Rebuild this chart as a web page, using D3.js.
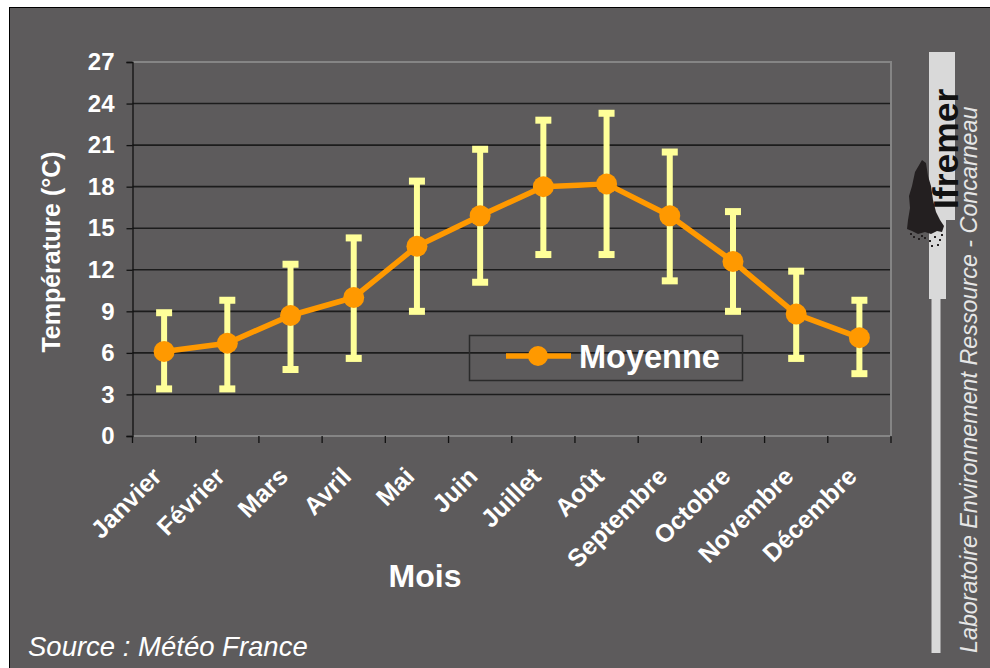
<!DOCTYPE html>
<html lang="fr">
<head>
<meta charset="utf-8">
<script src="https://cdn.jsdelivr.net/npm/d3@7"></script>
<style>
  html, body { margin: 0; padding: 0; background: #ffffff; }
  svg { display: block; }
  text { font-family: "Liberation Sans", Arial, sans-serif; }
</style>
</head>
<body>
<svg id="chart" width="990" height="668"></svg>
<script>
// Températures mensuelles à Concarneau (moyenne, minimum et maximum)
const months = ["Janvier", "Février", "Mars", "Avril", "Mai", "Juin",
                "Juillet", "Août", "Septembre", "Octobre", "Novembre", "Décembre"];
const meanTemp = [6.1, 6.7, 8.7, 10.0, 13.7, 15.9, 18.0, 18.2, 15.9, 12.6, 8.8, 7.1];
const maxTemp  = [8.9, 9.8, 12.4, 14.3, 18.4, 20.7, 22.8, 23.3, 20.5, 16.2, 11.9, 9.8];
const minTemp  = [3.4, 3.4, 4.8, 5.6, 9.0, 11.1, 13.1, 13.1, 11.2, 9.0, 5.6, 4.5];
const yTicks = [0, 3, 6, 9, 12, 15, 18, 21, 24, 27];

const BG = "#5d5b5c", ORANGE = "#ff9900", YELLOW = "#ffff99";

const svg = d3.select("#chart");

// fond et cadre
svg.append("rect").attr("x", 9.5).attr("y", 7.5).attr("width", 990).attr("height", 680)
  .attr("fill", BG).attr("stroke", "#000").attr("stroke-width", 1);

const plot = { left: 132.5, right: 891, top: 62, bottom: 436 };

const x = d3.scaleBand().domain(months).range([plot.left, plot.right]).padding(0);
const y = d3.scaleLinear().domain([0, 27]).range([plot.bottom, plot.top]);
const cx = m => x(m) + x.bandwidth() / 2;

// quadrillage horizontal
svg.append("g").selectAll("line").data(yTicks.filter(t => t > 0 && t < 27)).join("line")
  .attr("x1", plot.left).attr("x2", plot.right)
  .attr("y1", d => y(d)).attr("y2", d => y(d))
  .attr("stroke", "#1c1c1c").attr("stroke-width", 1.6);

// bordure de la zone de tracé
svg.append("path")
  .attr("d", `M${plot.left},${plot.top}H${plot.right}V${plot.bottom}H${plot.left}`)
  .attr("fill", "none").attr("stroke", "#858585").attr("stroke-width", 2);

// axe Y
const yAxis = svg.append("g").attr("transform", `translate(${plot.left},0)`)
  .call(d3.axisLeft(y).tickValues(yTicks).tickSize(6).tickPadding(12));
yAxis.select(".domain").attr("stroke", "#111").attr("stroke-width", 1.3);
yAxis.selectAll(".tick line").attr("stroke", "#111").attr("stroke-width", 1.3);
yAxis.selectAll(".tick text").attr("fill", "#fff").attr("font-size", 24)
  .attr("font-weight", "bold").style("font-family", "'Liberation Sans', Arial, sans-serif");

// axe X : graduations aux limites des catégories
const xTickPos = d3.range(months.length + 1).map(i => plot.left + i * x.bandwidth());
svg.append("g").selectAll("line").data(xTickPos).join("line")
  .attr("x1", d => d).attr("x2", d => d)
  .attr("y1", plot.bottom).attr("y2", plot.bottom + 7)
  .attr("stroke", "#111").attr("stroke-width", 1.3);

// étiquettes des mois
svg.append("g").selectAll("text").data(months).join("text")
  .attr("transform", d => `translate(${cx(d) - 1},${478}) rotate(-45)`)
  .attr("text-anchor", "end")
  .attr("fill", "#fff").attr("font-size", 25).attr("font-weight", "bold")
  .text(d => d);

// barres d'erreur (min / max)
const eb = svg.append("g");
months.forEach((m, i) => {
  eb.append("line")
    .attr("x1", cx(m)).attr("x2", cx(m))
    .attr("y1", y(maxTemp[i])).attr("y2", y(minTemp[i]))
    .attr("stroke", YELLOW).attr("stroke-width", 6);
  [maxTemp[i], minTemp[i]].forEach(v => {
    eb.append("rect")
      .attr("x", cx(m) - 8).attr("y", y(v) - 3.5)
      .attr("width", 16).attr("height", 7)
      .attr("fill", YELLOW);
  });
});

// courbe des moyennes
const line = d3.line().x((d, i) => cx(months[i])).y(d => y(d));
svg.append("path").datum(meanTemp)
  .attr("d", line).attr("fill", "none")
  .attr("stroke", ORANGE).attr("stroke-width", 5.5).attr("stroke-linejoin", "round");
svg.append("g").selectAll("circle").data(meanTemp).join("circle")
  .attr("cx", (d, i) => cx(months[i])).attr("cy", d => y(d))
  .attr("r", 10.5).attr("fill", ORANGE);

// légende
const lg = svg.append("g");
lg.append("rect").attr("x", 469.5).attr("y", 335.5).attr("width", 273).attr("height", 45)
  .attr("fill", "none").attr("stroke", "#2a2a2a").attr("stroke-width", 1.5);
lg.append("line").attr("x1", 506).attr("x2", 571).attr("y1", 356).attr("y2", 356)
  .attr("stroke", ORANGE).attr("stroke-width", 5.5);
lg.append("circle").attr("cx", 538).attr("cy", 356).attr("r", 10).attr("fill", ORANGE);
lg.append("text").attr("x", 579).attr("y", 368)
  .attr("fill", "#fff").attr("font-size", 32.5).attr("font-weight", "bold").text("Moyenne");

// titres des axes
svg.append("text")
  .attr("transform", `translate(60,252) rotate(-90)`)
  .attr("text-anchor", "middle")
  .attr("fill", "#fff").attr("font-size", 25).attr("font-weight", "bold")
  .text("Température (°C)");
svg.append("text").attr("x", 425).attr("y", 587).attr("text-anchor", "middle")
  .attr("fill", "#fff").attr("font-size", 32).attr("font-weight", "bold").text("Mois");

// source
svg.append("text").attr("x", 28).attr("y", 656)
  .attr("fill", "#fff").attr("font-size", 27.5).attr("font-style", "italic")
  .text("Source : Météo France");

// bandeau Ifremer
const band = svg.append("g");
band.append("rect").attr("x", 929).attr("y", 52).attr("width", 26).attr("height", 168).attr("fill", "#d9d9d9");
band.append("rect").attr("x", 929).attr("y", 52).attr("width", 17).attr("height", 247).attr("fill", "#d9d9d9");
band.append("rect").attr("x", 931.5).attr("y", 52).attr("width", 9).attr("height", 601).attr("fill", "#d9d9d9");

// logo (silhouette sombre)
band.append("path")
  .attr("d", "M922,160 L926,163 L928,176 L931,186 L933,200 L936,212 L940,220 L944,226 L942,232 L937,231 L931,234 L925,232 L918,234 L912,231 L907,229 L908,220 L910,208 L909,196 L912,186 L915,172 Z")
  .attr("fill", "#231f20");
[[913, 236], [918, 238], [924, 237], [929, 240], [934, 236], [939, 239], [937, 244], [931, 245], [941, 234], [910, 233], [921, 235]]
  .forEach(p => band.append("rect").attr("x", p[0]).attr("y", p[1]).attr("width", 2).attr("height", 2).attr("fill", "#231f20"));

band.append("text")
  .attr("transform", "translate(958,209) rotate(-90)")
  .attr("fill", "#111").attr("font-size", 35.5).attr("font-weight", "bold").text("Ifremer");

band.append("text")
  .attr("transform", "translate(977,653) rotate(-90)")
  .attr("fill", "#e6e6e6").attr("font-size", 23.3).attr("font-style", "italic")
  .text("Laboratoire Environnement Ressource - Concarneau");
</script>
</body>
</html>
